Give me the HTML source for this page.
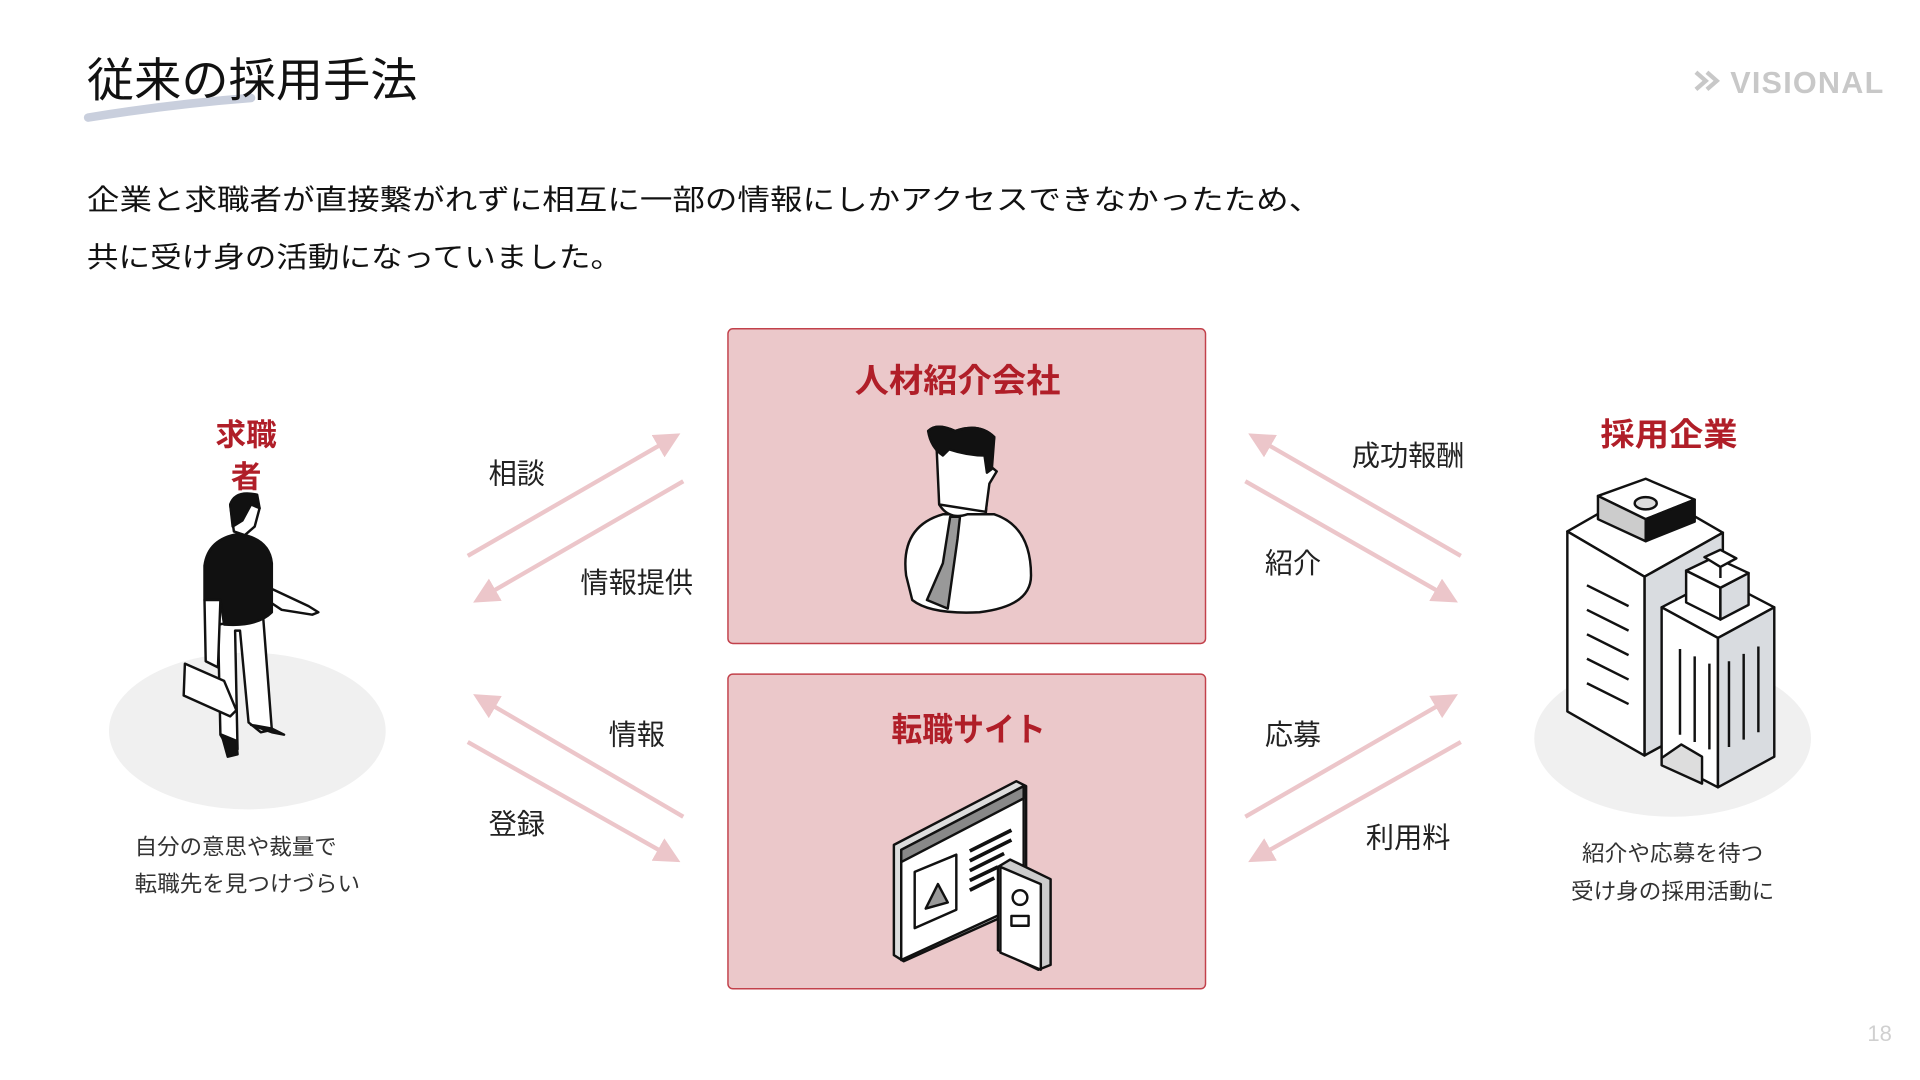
<!DOCTYPE html>
<html><head><meta charset="utf-8"><style>
html,body{margin:0;padding:0;background:#fff;}
svg{display:block;}
text{font-family:"Liberation Sans","Noto Sans CJK JP",sans-serif;}
</style></head><body>
<svg width="1920" height="1080" viewBox="0 0 1568 882" xmlns="http://www.w3.org/2000/svg">
<!-- title -->
<path d="M72 96 Q140 85 205 80" stroke="#c9cfdd" stroke-width="7" fill="none" stroke-linecap="round"/>
<text x="71" y="79" font-size="38" fill="#111" textLength="270" lengthAdjust="spacingAndGlyphs">従来の採用手法</text>
<!-- logo -->
<g fill="none" stroke="#c8c8c8" stroke-width="3.5"><path d="M1385 59 l8 7 l-8 7"/><path d="M1394 59 l8 7 l-8 7"/></g>
<text x="1413" y="76" font-size="25" fill="#c8c8c8" font-weight="bold" letter-spacing="1" textLength="126" lengthAdjust="spacingAndGlyphs">VISIONAL</text>
<!-- body -->
<text x="71" y="171" font-size="23" fill="#111" textLength="1008" lengthAdjust="spacingAndGlyphs">企業と求職者が直接繋がれずに相互に一部の情報にしかアクセスできなかったため、</text>
<text x="71" y="218" font-size="23" fill="#111" textLength="437" lengthAdjust="spacingAndGlyphs">共に受け身の活動になっていました。</text>
<!-- boxes -->
<rect x="594.5" y="268.5" width="390" height="257" rx="4" fill="#ebc8ca" stroke="#c2414b" stroke-width="1.2"/>
<rect x="594.5" y="550.5" width="390" height="257" rx="4" fill="#ebc8ca" stroke="#c2414b" stroke-width="1.2"/>
<text x="782" y="320" font-size="27" font-weight="bold" fill="#b01e28" text-anchor="middle" textLength="168" lengthAdjust="spacingAndGlyphs">人材紹介会社</text>
<text x="791" y="605" font-size="27" font-weight="bold" fill="#b01e28" text-anchor="middle" textLength="126" lengthAdjust="spacingAndGlyphs">転職サイト</text>
<!-- agent person -->
<g stroke="#111" stroke-width="2" stroke-linejoin="round">
<path d="M740 470 Q735 430 770 420 L812 420 Q842 430 842 470 Q842 495 800 500 Q760 502 745 490 Z" fill="#fff"/>
<path d="M776 422 L770 460 L757 490 L774 497 L782 440 L784 422 Z" fill="#999"/>
<path d="M767 395 L767 412 Q775 425 790 420 L805 420 L807 395 Z" fill="#fff"/>
<path d="M765 368 L767 412 L805 418 L808 395 L814 385 L808 380 L812 357 Q800 345 780 352 Q765 345 758 352 Z" fill="#fff"/>
<path d="M758 352 Q765 345 780 352 Q800 345 812 357 L810 383 L806 386 L804 372 Q790 372 775 367 L770 372 Q760 365 758 352Z" fill="#111"/>
</g>
<!-- site illustration -->
<g stroke="#111" stroke-width="2" stroke-linejoin="round">
<path d="M730 690 L830 638 L838 642 L838 740 L738 785 L730 780 Z" fill="#ddd"/>
<path d="M736 694 L836 642 L836 738 L736 784 Z" fill="#fff"/>
<path d="M736 694 L836 642 L836 652 L736 704 Z" fill="#888"/>
<path d="M747 712 L781 698 L781 743 L747 758 Z" fill="#fff"/>
<path d="M756 742 L766 722 L774 737 Z" fill="#999"/>
<path d="M792 695 L826 678 M792 703 L826 686 M792 711 L820 697 M792 719 L815 708 M792 727 L812 717" stroke-width="3"/>
<path d="M815 708 L825 702 L858 718 L858 788 L848 792 L815 776 Z" fill="#ccc"/>
<path d="M817 708 L850 722 L850 792 L817 778 Z" fill="#fff"/>
<circle cx="833" cy="733" r="6" fill="#fff"/>
<rect x="826" y="748" width="14" height="8" fill="#fff"/>
</g>
<!-- arrows -->
<defs><marker id="ah" viewBox="0 0 10 10" refX="8" refY="5" markerWidth="6" markerHeight="6" orient="auto"><path d="M0 0 L10 5 L0 10 Z" fill="#ecc6ca"/></marker></defs>
<g stroke="#ecc6ca" stroke-width="3.5" fill="none" marker-end="url(#ah)">
<line x1="382" y1="454" x2="552" y2="356"/>
<line x1="558" y1="393" x2="390" y2="490"/>
<line x1="558" y1="667" x2="390" y2="569"/>
<line x1="382" y1="606" x2="552" y2="702"/>
<line x1="1193" y1="454" x2="1023" y2="356"/>
<line x1="1017" y1="393" x2="1187" y2="490"/>
<line x1="1017" y1="667" x2="1187" y2="569"/>
<line x1="1193" y1="606" x2="1023" y2="702"/>
</g>
<g font-size="23" fill="#222" text-anchor="middle">
<text x="422" y="395">相談</text>
<text x="520" y="484">情報提供</text>
<text x="520" y="608">情報</text>
<text x="422" y="681">登録</text>
<text x="1150" y="380">成功報酬</text>
<text x="1056" y="468">紹介</text>
<text x="1056" y="608">応募</text>
<text x="1150" y="692">利用料</text>
</g>
<!-- left -->
<ellipse cx="202" cy="597" rx="113" ry="64" fill="#f0f0f0"/>
<text x="201" y="364" font-size="25" font-weight="bold" fill="#b01e28" text-anchor="middle">求職</text>
<text x="201" y="398" font-size="25" font-weight="bold" fill="#b01e28" text-anchor="middle">者</text>
<g stroke="#111" stroke-width="2" stroke-linejoin="round">
<path d="M178 510 L180 600 L186 610 L194 612 L192 515 L196 515 L203 590 L213 598 L222 596 L215 505 Z" fill="#fff"/>
<path d="M220 480 L252 495 L260 500 L255 502 L230 498 L218 490 Z" fill="#fff"/>
<path d="M167 462 Q170 440 195 436 Q220 440 222 460 L222 500 Q210 512 183 510 L180 490 L167 490 Z" fill="#111"/>
<path d="M167 490 L168 540 L178 545 L180 490 Z" fill="#fff"/>
<path d="M188 412 L191 434 L200 437 L208 430 L212 415 L205 405 Z" fill="#fff"/>
<path d="M188 412 Q192 400 210 404 L212 415 L205 412 L198 425 L190 430 Z" fill="#111"/>
<path d="M151 542 L183 556 L193 580 L188 585 L150 568 Z" fill="#fff"/>
<path d="M181 600 L186 618 L194 616 L193 605 Z M205 592 L222 598 L232 600 L222 595 Z" fill="#111"/>
</g>
<g font-size="18" fill="#333">
<text x="110" y="698" textLength="165" lengthAdjust="spacingAndGlyphs">自分の意思や裁量で</text>
<text x="110" y="728" textLength="184" lengthAdjust="spacingAndGlyphs">転職先を見つけづらい</text>
</g>
<!-- right -->
<ellipse cx="1366" cy="603" rx="113" ry="64" fill="#f0f0f0"/>
<text x="1363" y="364" font-size="26" font-weight="bold" fill="#b01e28" text-anchor="middle" textLength="112" lengthAdjust="spacingAndGlyphs">採用企業</text>
<g stroke="#111" stroke-width="2" stroke-linejoin="round">
<path d="M1280 434 L1343 398 L1407 435 L1343 471 Z" fill="#fff"/>
<path d="M1343 471 L1407 435 L1407 582 L1343 617 Z" fill="#d9dce0"/>
<path d="M1280 434 L1343 471 L1343 617 L1280 581 Z" fill="#fff"/>
<path d="M1305 405 L1344 391 L1384 408 L1344 424 Z" fill="#fff"/>
<path d="M1305 405 L1344 424 L1344 442 L1305 424 Z" fill="#ccc"/>
<path d="M1344 424 L1384 408 L1384 426 L1344 442 Z" fill="#111"/>
<ellipse cx="1344" cy="411" rx="9" ry="5" fill="#ddd"/>
<path d="M1296 478 L1330 495 M1296 498 L1330 515 M1296 518 L1330 535 M1296 538 L1330 555 M1296 558 L1330 575"/>
<path d="M1357 496 L1403 472 L1449 496 L1403 521 Z" fill="#fff"/>
<path d="M1357 496 L1403 521 L1403 643 L1357 619 Z" fill="#fff"/>
<path d="M1403 521 L1449 496 L1449 618 L1403 643 Z" fill="#d9dce0"/>
<path d="M1377 466 L1405 480 L1405 506 L1377 492 Z" fill="#fff"/>
<path d="M1405 480 L1428 468 L1428 494 L1405 506 Z" fill="#d9dce0"/>
<path d="M1377 466 L1400 455 L1428 468 L1405 480 Z" fill="#fff"/>
<path d="M1392 455 L1405 449 L1418 456 L1405 463 Z M1405 463 L1405 472" fill="#fff"/>
<path d="M1372 530 L1372 600 M1384 536 L1384 606 M1396 542 L1396 612 M1412 540 L1412 610 M1424 534 L1424 604 M1436 528 L1436 598"/>
<path d="M1357 619 L1373 608 L1390 618 L1390 640 L1357 625 Z" fill="#ddd"/>
</g>
<g font-size="18" fill="#333" text-anchor="middle">
<text x="1366" y="703" textLength="148" lengthAdjust="spacingAndGlyphs">紹介や応募を待つ</text>
<text x="1366" y="734" textLength="166" lengthAdjust="spacingAndGlyphs">受け身の採用活動に</text>
</g>
<text x="1545" y="850" font-size="18" fill="#d0d0d0" text-anchor="end">18</text>
</svg>
</body></html>
